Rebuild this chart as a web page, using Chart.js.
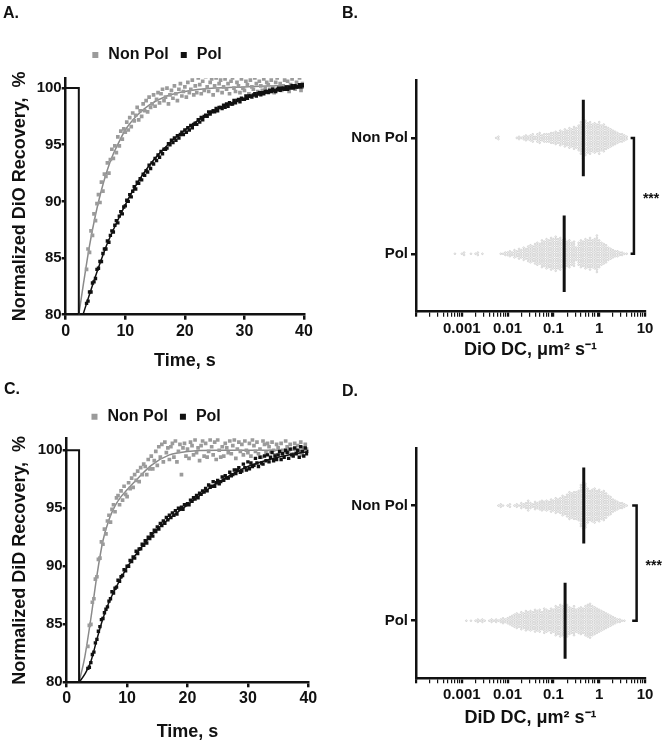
<!DOCTYPE html>
<html>
<head>
<meta charset="utf-8">
<script src="https://cdn.jsdelivr.net/npm/chart.js@4.4.1/dist/chart.umd.min.js"></script>
<style>
  html, body { margin: 0; padding: 0; background: #fff; }
  #wrap { position: relative; width: 666px; height: 745px; overflow: hidden; }
  .panel { position: absolute; }
  .tag { position: absolute; font: bold 16px/16px "Liberation Sans", Arial, sans-serif; color: #111; }
</style>
</head>
<body>
<div id="wrap">
  <div class="panel" style="left:0;top:0;width:330px;height:370px"><canvas id="chartA"></canvas></div>
  <div class="panel" style="left:330px;top:0;width:336px;height:370px"><canvas id="chartB"></canvas></div>
  <div class="panel" style="left:0;top:370px;width:330px;height:375px"><canvas id="chartC"></canvas></div>
  <div class="panel" style="left:330px;top:370px;width:336px;height:375px"><canvas id="chartD"></canvas></div>
  <div class="tag" style="left:3px;top:5px">A.</div>
  <div class="tag" style="left:342px;top:5px">B.</div>
  <div class="tag" style="left:4px;top:381px">C.</div>
  <div class="tag" style="left:342px;top:383px">D.</div>
</div>
<script>
// ---- recovery curves (panels A, C) ----
const seriesNames = ['Non Pol', 'Pol'];
const timeTicks = [0, 10, 20, 30, 40];
const recoveryTicks = [80, 85, 90, 95, 100];
// frames every 0.25 s starting at 3.5 s
const frapT0 = 3.5, frapDt = 0.25;

const dioNonPol = [
  84.0, 85.8,
  85.5, 87.4, 87.0, 88.9,  88.3, 89.8, 90.6, 89.9,  91.7, 90.9, 92.4, 92.2,
  93.4, 92.5, 93.7, 94.6,  93.8, 94.9, 94.3, 95.7,  94.9, 96.2, 95.5, 96.4,
  96.1, 97.0, 96.3, 97.4,  96.6, 97.8, 97.1, 97.6,  98.3, 97.2, 98.0, 97.5,
  98.6, 98.0, 98.9, 97.9,  99.2, 98.3, 98.6, 99.4,  98.4, 99.0, 99.6, 98.7,
  99.5, 99.9, 98.9, 99.2,  100.0, 98.6, 99.4, 99.8,  99.1, 100.2, 99.5, 98.9,
  99.9, 100.4, 99.3, 99.7,  100.1, 99.2, 100.5, 99.6,  99.9, 100.7, 99.4, 100.2,
  99.6, 100.9, 100.3, 99.5,  100.6, 99.8, 101.0, 100.1,  99.7, 100.5, 100.8, 99.4,
  100.2, 100.9, 99.8, 100.4,  100.7, 99.6, 100.1, 100.8,  99.9, 100.4, 99.5, 100.6,
  100.9, 100.0, 99.7, 100.5,  100.2, 99.6, 100.8, 100.0,  99.8, 100.6, 100.3, 99.5,
  100.7, 100.1, 99.9, 100.9,  100.4, 99.7, 100.6, 100.2,  99.8, 100.8, 100.0, 100.5,
  100.3, 99.9, 100.7, 100.1,  99.6, 100.5, 100.9, 100.0,  100.4, 99.8, 100.2, 100.7,
  100.0, 100.6, 99.7, 100.3,  100.8, 100.1, 99.9, 100.5,  100.2, 100.9, 99.8, 100.4,
  100.1
];
const dioPol = [
  81.0, 81.2,
  82.0, 82.0, 82.8, 82.9,  83.2, 84.0, 84.1, 84.7,  84.7, 85.4, 85.8, 85.8,
  86.5, 86.4, 87.0, 87.4,  87.3, 87.9, 88.3, 88.1,  88.7, 89.1, 88.9, 89.5,
  89.6, 90.1, 90.0, 90.6,  90.4, 90.9, 91.3, 91.1,  91.7, 91.6, 92.0, 91.9,
  92.4, 92.3, 92.7, 92.6,  93.2, 92.9, 93.4, 93.3,  93.8, 93.6, 94.1, 93.9,
  94.4, 94.2, 94.6, 94.6,  94.7, 95.1, 95.0, 95.4,  95.2, 95.6, 95.4, 95.8,
  95.6, 95.9, 96.1, 95.9,  96.3, 96.1, 96.5, 96.3,  96.7, 96.5, 96.8, 96.9,
  96.8, 97.2, 97.0, 97.4,  97.2, 97.5, 97.6, 97.5,  97.9, 97.7, 97.9, 98.0,
  97.9, 98.2, 98.0, 98.3,  98.3, 98.2, 98.5, 98.3,  98.6, 98.4, 98.7, 98.6,
  98.6, 98.9, 98.7, 98.9,  99.0, 98.8, 99.1, 99.0,  99.0, 99.3, 99.1, 99.3,
  99.3, 99.2, 99.4, 99.5,  99.3, 99.5, 99.6, 99.4,  99.6, 99.5, 99.7, 99.7,
  99.6, 99.8, 99.7, 99.9,  99.8, 99.7, 99.9, 100.0,  99.8, 100.0, 100.0, 99.9,
  100.1, 99.9, 100.1, 100.0,  100.2, 100.0, 100.2, 100.1,  100.1, 100.3, 100.1, 100.3,
  100.2
];
const didNonPol = [
  83.1, 84.9,
  85.0, 86.9, 87.2, 88.9,  89.1, 90.6, 90.7, 92.1,  91.9, 93.2, 92.8, 93.9,
  94.4, 93.8, 94.9, 95.3,  94.7, 95.9, 96.1, 95.3,  96.5, 95.7, 96.9, 96.2,
  96.0, 97.2, 96.7, 97.6,  96.8, 97.9, 97.4, 98.2,  97.3, 98.5, 97.9, 98.8,
  98.6, 97.9, 99.2, 98.4,  99.5, 98.4, 99.1, 99.9,  98.7, 100.3, 99.4, 100.5,
  99.0, 100.7, 99.8, 100.2,  99.2, 100.3, 100.6, 99.4,  100.8, 99.0, 99.9, 100.5,
  97.9, 100.2, 100.6, 99.5,  100.1, 99.3, 100.7, 100.4,  99.6, 100.9, 99.8, 100.2,
  99.1, 100.4, 100.8, 99.5,  100.6, 99.4, 99.9, 100.9,  100.3, 99.6, 100.7, 99.2,
  100.9, 100.0, 99.4, 100.3,  99.5, 100.6, 100.2, 99.8,  100.8, 99.7, 100.4, 100.9,
  99.3, 100.1, 100.7, 99.9,  100.5, 99.6, 100.8, 100.0,  99.8, 100.6, 99.5, 100.9,
  100.4, 99.9, 100.7, 99.7,  100.1, 99.4, 100.8, 100.5,  99.8, 100.6, 100.3, 99.9,
  100.7, 100.0, 99.6, 100.5,  100.2, 99.7, 100.6, 100.0,  99.9, 100.8, 100.3, 99.8,
  100.5, 100.1, 99.7, 100.6,  100.0, 100.4, 99.8, 100.7,  99.6, 100.2, 100.5, 99.9,
  100.1
];
const didPol = [
  81.2, 81.3,
  81.7, 82.4, 82.6, 83.4,  83.7, 84.4, 84.8, 85.4,  85.5, 86.0, 86.3, 86.5,
  87.0, 87.2, 87.8, 87.7,  88.1, 88.2, 88.8, 88.7,  89.1, 89.2, 89.7, 89.6,
  90.0, 90.0, 90.5, 90.4,  90.8, 90.7, 91.3, 91.1,  91.5, 91.5, 91.9, 91.8,
  92.2, 92.0, 92.5, 92.4,  92.8, 92.6, 93.1, 93.0,  93.4, 93.2, 93.7, 93.5,
  93.9, 93.7, 94.2, 94.0,  94.4, 94.2, 94.6, 94.4,  94.8, 94.5, 95.0, 94.9,
  95.1, 94.9, 95.3, 95.3,  95.4, 95.3, 95.7, 95.6,  95.9, 95.8, 96.1, 95.9,
  96.3, 96.2, 96.5, 96.4,  96.7, 96.5, 97.0, 96.8,  96.9, 97.3, 96.9, 97.2,
  97.4, 97.1, 97.3, 97.7,  97.4, 97.8, 97.6, 97.6,  98.1, 97.8, 97.9, 98.3,
  98.0, 98.3, 98.5, 98.1,  98.2, 98.8, 98.5, 98.3,  99.0, 98.4, 98.9, 98.6,
  98.7, 99.3, 98.9, 98.6,  99.4, 98.9, 98.8, 99.5,  99.1, 99.6, 99.0, 99.4,
  99.8, 99.1, 99.5, 99.2,  99.6, 99.9, 99.2, 99.7,  99.4, 100.0, 99.8, 99.3,
  100.1, 99.6, 99.5, 100.2,  99.7, 100.0, 99.4, 100.3,  99.9, 99.5, 100.2, 99.7,
  99.9
];

// fitted recovery curves
const dioFitNonPolT = [2.2, 3, 4, 5, 6, 7, 8, 9, 10, 12, 14, 17, 20, 25, 30, 35, 40];
const dioFitNonPol = [80, 82.8, 86.1, 88.8, 91.0, 92.8, 94.2, 95.3, 96.3, 97.6, 98.5, 99.3, 99.7, 100.0, 100.1, 100.2, 100.2];
const dioFitPolT = [2.9, 4, 5, 6, 7, 8, 10, 12, 15, 20, 25, 30, 35, 40];
const dioFitPol = [80, 81.8, 83.4, 84.9, 86.3, 87.5, 89.7, 91.6, 93.8, 96.3, 98.0, 99.1, 99.7, 100.2];
const didFitNonPolT = [2.05, 3, 4, 5, 6, 7, 8, 9, 10, 12, 14, 17, 20, 25, 40];
const didFitNonPol = [80, 82.2, 85.5, 89.2, 92.2, 94.0, 95.2, 96.0, 96.6, 97.7, 98.7, 99.6, 99.9, 100.0, 100.0];
const didFitPolT = [2.05, 3, 4, 5, 6, 7, 8, 10, 12, 15, 20, 25, 30, 35, 40];
const didFitPol = [80, 80.7, 81.8, 83.7, 85.5, 86.9, 88.0, 89.9, 91.4, 93.2, 95.3, 97.2, 98.6, 99.4, 99.9];

// pre-bleach level, then bleach
const preBleachY = [100, 100, 80];
const dioPreT = [0, 2.2, 2.2];
const didPreT = [0, 2.05, 2.05];

// ---- diffusion coefficients (panels B, D) ----
const groupLabels = ['Non Pol', 'Pol'];
const dcTickLabels = [0.001, 0.01, 0.1, 1, 10];
const binStep = 0.05; // bin width in log10 units
const dioNonPolStart = -2.25;
const dioNonPolCounts = [1, 2, 0, 0, 0, 0, 0, 0, 0, 1, 2, 1, 2, 3, 2, 3, 4, 2, 4, 5, 3, 4, 4, 4, 5, 5, 6, 5, 7, 6, 8, 7, 9, 8, 10, 9, 11, 14, 18, 15, 13, 14, 12, 13, 12, 14, 11, 12, 10, 9, 8, 7, 6, 5, 4, 4, 3, 2];
const dioPolStart = -3.15;
const dioPolCounts = [1, 0, 0, 1, 2, 0, 0, 1, 0, 1, 2, 0, 1, 0, 0, 0, 0, 0, 0, 0, 1, 1, 2, 2, 3, 2, 4, 3, 5, 4, 6, 5, 7, 8, 7, 9, 10, 9, 12, 11, 13, 12, 14, 13, 15, 13, 14, 12, 13, 11, 12, 10, 11, 6, 10, 12, 11, 13, 12, 14, 12, 13, 16, 12, 10, 9, 8, 6, 5, 4, 3, 3, 2, 2, 1, 1];
const didNonPolStart = -2.2;
const didNonPolCounts = [1, 2, 1, 0, 1, 2, 0, 1, 2, 1, 3, 2, 3, 5, 3, 2, 4, 3, 4, 5, 4, 5, 4, 6, 5, 7, 6, 7, 9, 8, 10, 12, 11, 12, 12, 13, 18, 20, 19, 15, 13, 14, 15, 13, 14, 12, 13, 11, 9, 8, 6, 5, 4, 3, 3, 2, 1];
const didPolStart = -2.9;
const didPolCounts = [1, 0, 1, 0, 1, 2, 1, 2, 1, 0, 1, 2, 1, 2, 1, 2, 3, 2, 3, 4, 5, 6, 7, 6, 8, 7, 9, 8, 9, 8, 10, 9, 10, 8, 11, 10, 9, 11, 10, 13, 12, 14, 13, 15, 14, 12, 11, 13, 10, 11, 12, 11, 13, 14, 15, 13, 12, 11, 10, 9, 8, 7, 6, 5, 4, 3, 2, 2, 1, 1];
const dioMedians = [0.45, 0.172];
const didMedians = [0.46, 0.18];
// significance bracket ends (x) for each panel
const dioBracketX = [4.85, 5.73];
const didBracketX = [5.25, 6.56];
const sigText = '***';

const FONT = '"Liberation Sans", Arial, sans-serif';
const INK = '#111';
const GRAY = '#9b9b9b';
Chart.defaults.font.family = FONT;
Chart.defaults.font.weight = 'bold';
Chart.defaults.color = INK;

const boldFont = size => ({ family: FONT, size: size, weight: 'bold' });
const pairs = (xs, ys) => xs.map((x, i) => ({ x: x, y: ys[i] }));

function recoveryChart(id, o) {
  const frames = ys => ys.map((y, i) => ({ x: frapT0 + i * frapDt, y: y }));
  return new Chart(document.getElementById(id), {
    type: 'scatter',
    data: {
      datasets: [
        { label: seriesNames[0], data: frames(o.nonPol), pointStyle: 'rect', pointRadius: 2.6,
          backgroundColor: GRAY, borderWidth: 0, order: 3 },
        { label: seriesNames[1], data: frames(o.pol), pointStyle: 'rect', pointRadius: 2.4,
          backgroundColor: INK, borderWidth: 0, order: 2 },
        { label: 'fit non pol', data: pairs(o.fitNonPolT, o.fitNonPol), showLine: true, pointRadius: 0,
          borderColor: '#8a8a8a', borderWidth: 1.5, cubicInterpolationMode: 'monotone', order: 4 },
        { label: 'fit pol', data: pairs(o.fitPolT, o.fitPol), showLine: true, pointRadius: 0,
          borderColor: INK, borderWidth: 1.5, cubicInterpolationMode: 'monotone', order: 1 },
        { label: 'pre-bleach', data: pairs(o.preT, preBleachY), showLine: true, pointRadius: 0,
          borderColor: INK, borderWidth: 2, order: 0 }
      ]
    },
    options: {
      responsive: true, maintainAspectRatio: false, animation: false, events: [],
      layout: { padding: o.pad },
      plugins: {
        tooltip: { enabled: false },
        legend: {
          position: 'top',
          labels: {
            filter: item => item.datasetIndex < 2,
            sort: (a, b) => a.datasetIndex - b.datasetIndex,
            usePointStyle: true, boxWidth: 10, boxHeight: 6, padding: 10,
            color: INK, font: boldFont(16)
          }
        }
      },
      scales: {
        x: {
          type: 'linear', min: 0, max: 40,
          afterBuildTicks: s => { s.ticks = timeTicks.map(v => ({ value: v })); },
          afterFit: s => { s.height = o.xH; },
          grid: { drawOnChartArea: false, tickLength: 5, color: INK, lineWidth: 2.5 },
          border: { display: true, color: INK, width: 2.5 },
          ticks: { color: INK, padding: 2, maxRotation: 0, font: boldFont(16) },
          title: { display: true, text: 'Time, s', color: INK, font: boldFont(18),
                   padding: { top: 0, bottom: o.xTitlePad } }
        },
        y: {
          type: 'linear', min: 80, max: o.yMax,
          afterBuildTicks: s => { s.ticks = recoveryTicks.map(v => ({ value: v })); },
          afterFit: s => { s.width = o.yW; },
          grid: { drawOnChartArea: false, tickLength: 4, color: INK, lineWidth: 2.5 },
          border: { display: true, color: INK, width: 2.5 },
          ticks: { color: INK, padding: 0, font: boldFont(15) },
          title: { display: true, text: o.yTitle, color: INK, font: boldFont(18),
                   padding: { top: o.yTitlePad, bottom: 0 } }
        },
        // empty strip between legend and plot
        gap: {
          type: 'linear', axis: 'x', position: 'top',
          grid: { display: false, drawTicks: false }, border: { display: false },
          ticks: { display: false },
          afterFit: s => { s.height = o.gap; }
        }
      }
    }
  });
}

const sigStars = {
  id: 'sigStars',
  afterDatasetsDraw(chart, args, opts) {
    const { ctx, scales: { x, y } } = chart;
    ctx.save();
    ctx.font = 'bold 14px ' + FONT;
    ctx.fillStyle = INK;
    ctx.textAlign = 'left';
    ctx.textBaseline = 'middle';
    const yMid = (y.getPixelForValue(1) + y.getPixelForValue(2)) / 2;
    ctx.fillText(opts.text, x.getPixelForValue(opts.x) + 9, yMid + 3);
    ctx.restore();
  }
};

function dotPoints(start, counts, cat) {
  const dotGap = 0.021; // vertical spacing of stacked dots, in category units
  const pts = [];
  counts.forEach((n, i) => {
    const x = Math.pow(10, start + i * binStep);
    for (let k = 0; k < n; k++) pts.push({ x: x, y: cat + (k - (n - 1) / 2) * dotGap });
  });
  return pts;
}

function isDecade(v) {
  const e = Math.log10(v);
  return Math.abs(e - Math.round(e)) < 1e-6;
}

function dcChart(id, o) {
  const half = 0.33;
  const dotStyle = { pointStyle: 'circle', pointRadius: 0.85, borderWidth: 0.5,
                     borderColor: '#b0b0b0', backgroundColor: '#ffffff' };
  const medianLine = (m, cat) => ({
    data: [{ x: m, y: cat - half }, { x: m, y: cat + half }], showLine: true, pointRadius: 0,
    borderColor: INK, borderWidth: 3, order: 0
  });
  const logTicks = [];
  for (let e = -4; e <= 0; e++) for (let m = 1; m <= 9; m++) logTicks.push(m * Math.pow(10, e));
  logTicks.push(10);
  return new Chart(document.getElementById(id), {
    type: 'scatter',
    data: {
      datasets: [
        Object.assign({ data: dotPoints(o.nonPolStart, o.nonPolCounts, 1), order: 2 }, dotStyle),
        Object.assign({ data: dotPoints(o.polStart, o.polCounts, 2), order: 2 }, dotStyle),
        medianLine(o.medians[0], 1),
        medianLine(o.medians[1], 2),
        { data: [{ x: o.bracket[0], y: 1 }, { x: o.bracket[1], y: 1 }, { x: o.bracket[1], y: 2 }, { x: o.bracket[0], y: 2 }],
          showLine: true, pointRadius: 0, borderColor: INK, borderWidth: 2.5, order: 0 }
      ]
    },
    plugins: [sigStars],
    options: {
      responsive: true, maintainAspectRatio: false, animation: false, events: [],
      layout: { padding: o.pad },
      plugins: {
        tooltip: { enabled: false },
        legend: { display: false },
        sigStars: { x: o.bracket[1], text: sigText }
      },
      scales: {
        x: {
          type: 'logarithmic', min: 1e-4, max: 10,
          afterBuildTicks: s => { s.ticks = logTicks.map(v => ({ value: v })); },
          afterFit: s => { s.height = o.xH; },
          grid: { drawOnChartArea: false, tickLength: 5, color: INK,
                  lineWidth: c => (c.tick && isDecade(c.tick.value)) ? 2.2 : 1.2 },
          border: { display: true, color: INK, width: 2.5 },
          ticks: {
            autoSkip: false, maxRotation: 0, padding: 3, color: INK, font: boldFont(15),
            callback: v => {
              const hit = dcTickLabels.find(t => Math.abs(Math.log10(t) - Math.log10(v)) < 1e-6);
              return hit === undefined ? '' : String(hit);
            }
          },
          title: { display: true, text: o.xTitle, color: INK, font: boldFont(18),
                   padding: { top: 0, bottom: o.xTitlePad } }
        },
        y: {
          type: 'linear', min: 0.5, max: 2.5, reverse: true,
          afterBuildTicks: s => { s.ticks = groupLabels.map((g, i) => ({ value: i + 1 })); },
          afterFit: s => { s.width = o.yW; },
          grid: { drawOnChartArea: false, tickLength: 5, color: INK, lineWidth: 2.5 },
          border: { display: true, color: INK, width: 2.5 },
          ticks: { padding: 3, color: INK, font: boldFont(15), callback: v => groupLabels[v - 1] }
        }
      }
    }
  });
}

recoveryChart('chartA', {
  nonPol: dioNonPol, pol: dioPol,
  fitNonPolT: dioFitNonPolT, fitNonPol: dioFitNonPol, fitPolT: dioFitPolT, fitPol: dioFitPol,
  preT: dioPreT, yTitle: 'Normalized DiO Recovery,  %',
  pad: { left: 8, right: 26, top: 37, bottom: 0 }, gap: 5,
  yW: 57.7, yMax: 100.89, yTitlePad: 1.2, xH: 55.3, xTitlePad: -2
});
recoveryChart('chartC', {
  nonPol: didNonPol, pol: didPol,
  fitNonPolT: didFitNonPolT, fitNonPol: didFitNonPol, fitPolT: didFitPolT, fitPol: didFitPol,
  preT: didPreT, yTitle: 'Normalized DiD Recovery,  %',
  pad: { left: 2, right: 21.7, top: 28.7, bottom: 0 }, gap: 3.6,
  yW: 64.7, yMax: 101.03, yTitlePad: 7.2, xH: 62.7, xTitlePad: 2.5
});
dcChart('chartB', {
  nonPolStart: dioNonPolStart, nonPolCounts: dioNonPolCounts,
  polStart: dioPolStart, polCounts: dioPolCounts,
  medians: dioMedians, bracket: dioBracketX, xTitle: 'DiO DC, \u03bcm\u00b2 s\u207b\u00b9',
  pad: { left: 0, right: 21, top: 80, bottom: 0 }, yW: 86, xH: 58.3, xTitlePad: 9.2
});
dcChart('chartD', {
  nonPolStart: didNonPolStart, nonPolCounts: didNonPolCounts,
  polStart: didPolStart, polCounts: didPolCounts,
  medians: didMedians, bracket: didBracketX, xTitle: 'DiD DC, \u03bcm\u00b2 s\u207b\u00b9',
  pad: { left: 0, right: 21, top: 78, bottom: 0 }, yW: 86, xH: 66.7, xTitlePad: 16.2
});
</script>
</body>
</html>
